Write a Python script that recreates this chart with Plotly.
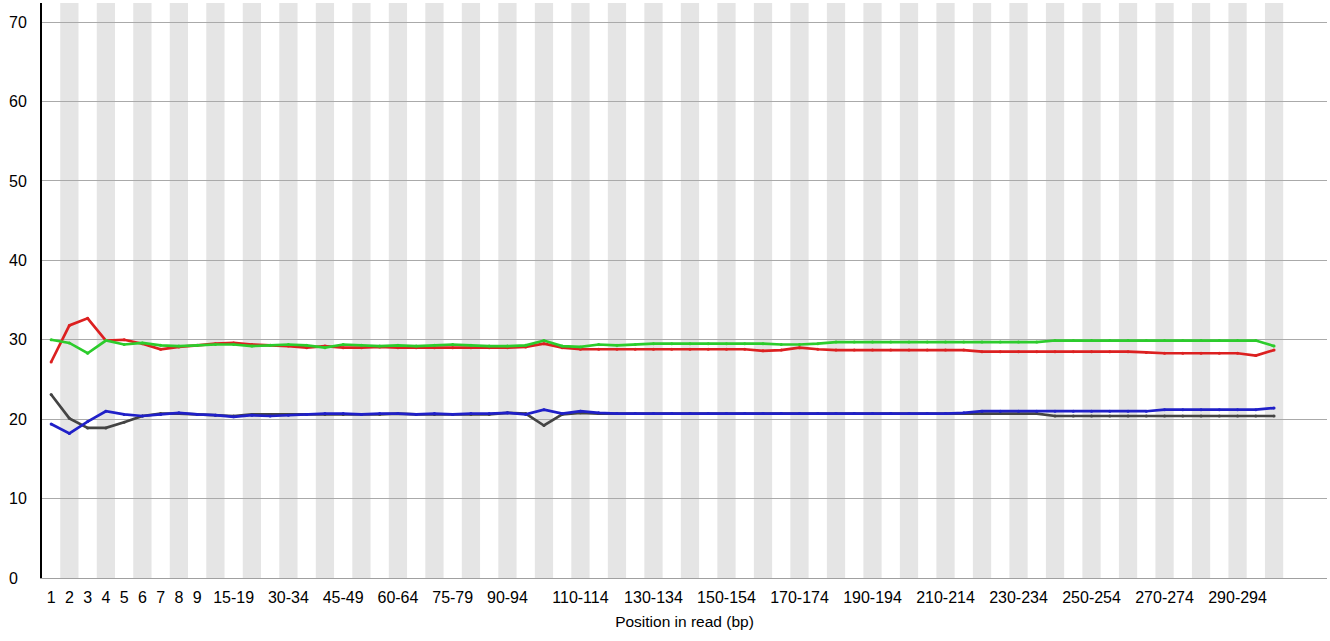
import plotly.graph_objects as go

# Position bins along the read (single bases, then 5 bp groups)
categories = (["1", "2", "3", "4", "5", "6", "7", "8", "9"]
              + [f"{s}-{s + 4}" for s in range(10, 300, 5)]
              + ["300-301"])

# Bin labels printed under the axis
tick_labels = ["1", "2", "3", "4", "5", "6", "7", "8", "9",
               "15-19", "30-34", "45-49", "60-64", "75-79", "90-94",
               "110-114", "130-134", "150-154", "170-174", "190-194",
               "210-214", "230-234", "250-254", "270-274", "290-294"]

# Per-base sequence content (%)
pct_T = [27.2, 31.8, 32.7, 29.9, 30.0, 29.5, 28.8, 29.1, 29.3, 29.5,
         29.6, 29.4, 29.3, 29.2, 29.0, 29.2, 29.0, 29.0, 29.1, 29.0,
         29.0, 29.0, 29.0, 29.0, 29.0, 29.0, 29.1, 29.5, 29.0, 28.8,
         28.8, 28.8, 28.8, 28.8, 28.8, 28.8, 28.8, 28.8, 28.8, 28.6,
         28.7, 29.0, 28.8, 28.7, 28.7, 28.7, 28.7, 28.7, 28.7, 28.7,
         28.7, 28.5, 28.5, 28.5, 28.5, 28.5, 28.5, 28.5, 28.5, 28.5,
         28.4, 28.3, 28.3, 28.3, 28.3, 28.3, 28.0, 28.7]

pct_C = [19.4, 18.2, 19.7, 21.0, 20.6, 20.4, 20.6, 20.8, 20.6, 20.5,
         20.3, 20.5, 20.4, 20.5, 20.6, 20.7, 20.7, 20.6, 20.7, 20.7,
         20.6, 20.7, 20.6, 20.7, 20.7, 20.8, 20.6, 21.2, 20.7, 21.0,
         20.8, 20.7, 20.7, 20.7, 20.7, 20.7, 20.7, 20.7, 20.7, 20.7,
         20.7, 20.7, 20.7, 20.7, 20.7, 20.7, 20.7, 20.7, 20.7, 20.7,
         20.8, 21.0, 21.0, 21.0, 21.0, 21.0, 21.0, 21.0, 21.0, 21.0,
         21.0, 21.2, 21.2, 21.2, 21.2, 21.2, 21.2, 21.4]

pct_A = [30.0, 29.6, 28.3, 29.9, 29.4, 29.6, 29.3, 29.2, 29.3, 29.4,
         29.4, 29.2, 29.3, 29.4, 29.3, 29.0, 29.4, 29.3, 29.2, 29.3,
         29.2, 29.3, 29.4, 29.3, 29.2, 29.2, 29.3, 29.9, 29.2, 29.1,
         29.4, 29.3, 29.4, 29.5, 29.5, 29.5, 29.5, 29.5, 29.5, 29.5,
         29.4, 29.4, 29.5, 29.7, 29.7, 29.7, 29.7, 29.7, 29.7, 29.7,
         29.7, 29.7, 29.7, 29.7, 29.7, 29.9, 29.9, 29.9, 29.9, 29.9,
         29.9, 29.9, 29.9, 29.9, 29.9, 29.9, 29.9, 29.2]

pct_G = [23.1, 20.1, 18.9, 18.9, 19.6, 20.4, 20.7, 20.7, 20.6, 20.5,
         20.4, 20.6, 20.6, 20.6, 20.6, 20.6, 20.6, 20.6, 20.6, 20.7,
         20.6, 20.6, 20.6, 20.6, 20.6, 20.8, 20.7, 19.2, 20.6, 20.8,
         20.7, 20.7, 20.7, 20.7, 20.7, 20.7, 20.7, 20.7, 20.7, 20.7,
         20.7, 20.7, 20.7, 20.7, 20.7, 20.7, 20.7, 20.7, 20.7, 20.7,
         20.7, 20.7, 20.7, 20.7, 20.7, 20.4, 20.4, 20.4, 20.4, 20.4,
         20.4, 20.4, 20.4, 20.4, 20.4, 20.4, 20.4, 20.4]

y_ticks = [0, 10, 20, 30, 40, 50, 60, 70]
y_tick_text = ["0\u00a0\u00a0", "10", "20", "30", "40", "50", "60", "70"]

series = [
    ("%G", pct_G, "#444444"),
    ("%T", pct_T, "#dc2020"),
    ("%C", pct_C, "#2020c8"),
    ("%A", pct_A, "#2ccc2c"),
]

FONT = "Liberation Sans, Arial, Helvetica, sans-serif"

fig = go.Figure()
for name, values, color in series:
    fig.add_trace(go.Scatter(
        x=categories, y=values, name=name, mode="lines+markers",
        line=dict(color=color, width=2.7),
        marker=dict(color=color, size=3),
        showlegend=False,
    ))

# Alternating grey band behind every other position bin
for i, cat in enumerate(categories):
    if i % 2 == 1:
        fig.add_shape(type="rect", xref="x", yref="paper",
                      x0=i - 0.5, x1=i + 0.5, y0=0, y1=1,
                      fillcolor="#e5e5e5", line=dict(width=0),
                      layer="below")

fig.update_layout(
    width=1330, height=641,
    margin=dict(l=42, r=3, t=3, b=63),
    paper_bgcolor="white", plot_bgcolor="white",
    font=dict(family=FONT, size=16, color="black"),
)

fig.update_xaxes(
    type="category", categoryorder="array", categoryarray=categories,
    range=[-0.5, 69.9],
    tickmode="array", tickvals=tick_labels, ticktext=tick_labels,
    ticks="", ticklabelstandoff=5, showgrid=False, zeroline=False,
    showline=True, linecolor="#a0a0a0", linewidth=1,
    tickfont=dict(size=16),
    title=dict(text="Position in read (bp)", font=dict(size=15.5), standoff=10),
)

fig.update_yaxes(
    range=[0, 72.4],
    tickmode="array", tickvals=y_ticks, ticktext=y_tick_text,
    ticks="", ticklabelstandoff=10, showgrid=True, gridcolor="#aaaaaa",
    gridwidth=1, zeroline=False, showline=True, linecolor="black",
    linewidth=2, tickfont=dict(size=16),
)

fig.write_html("out.html")
